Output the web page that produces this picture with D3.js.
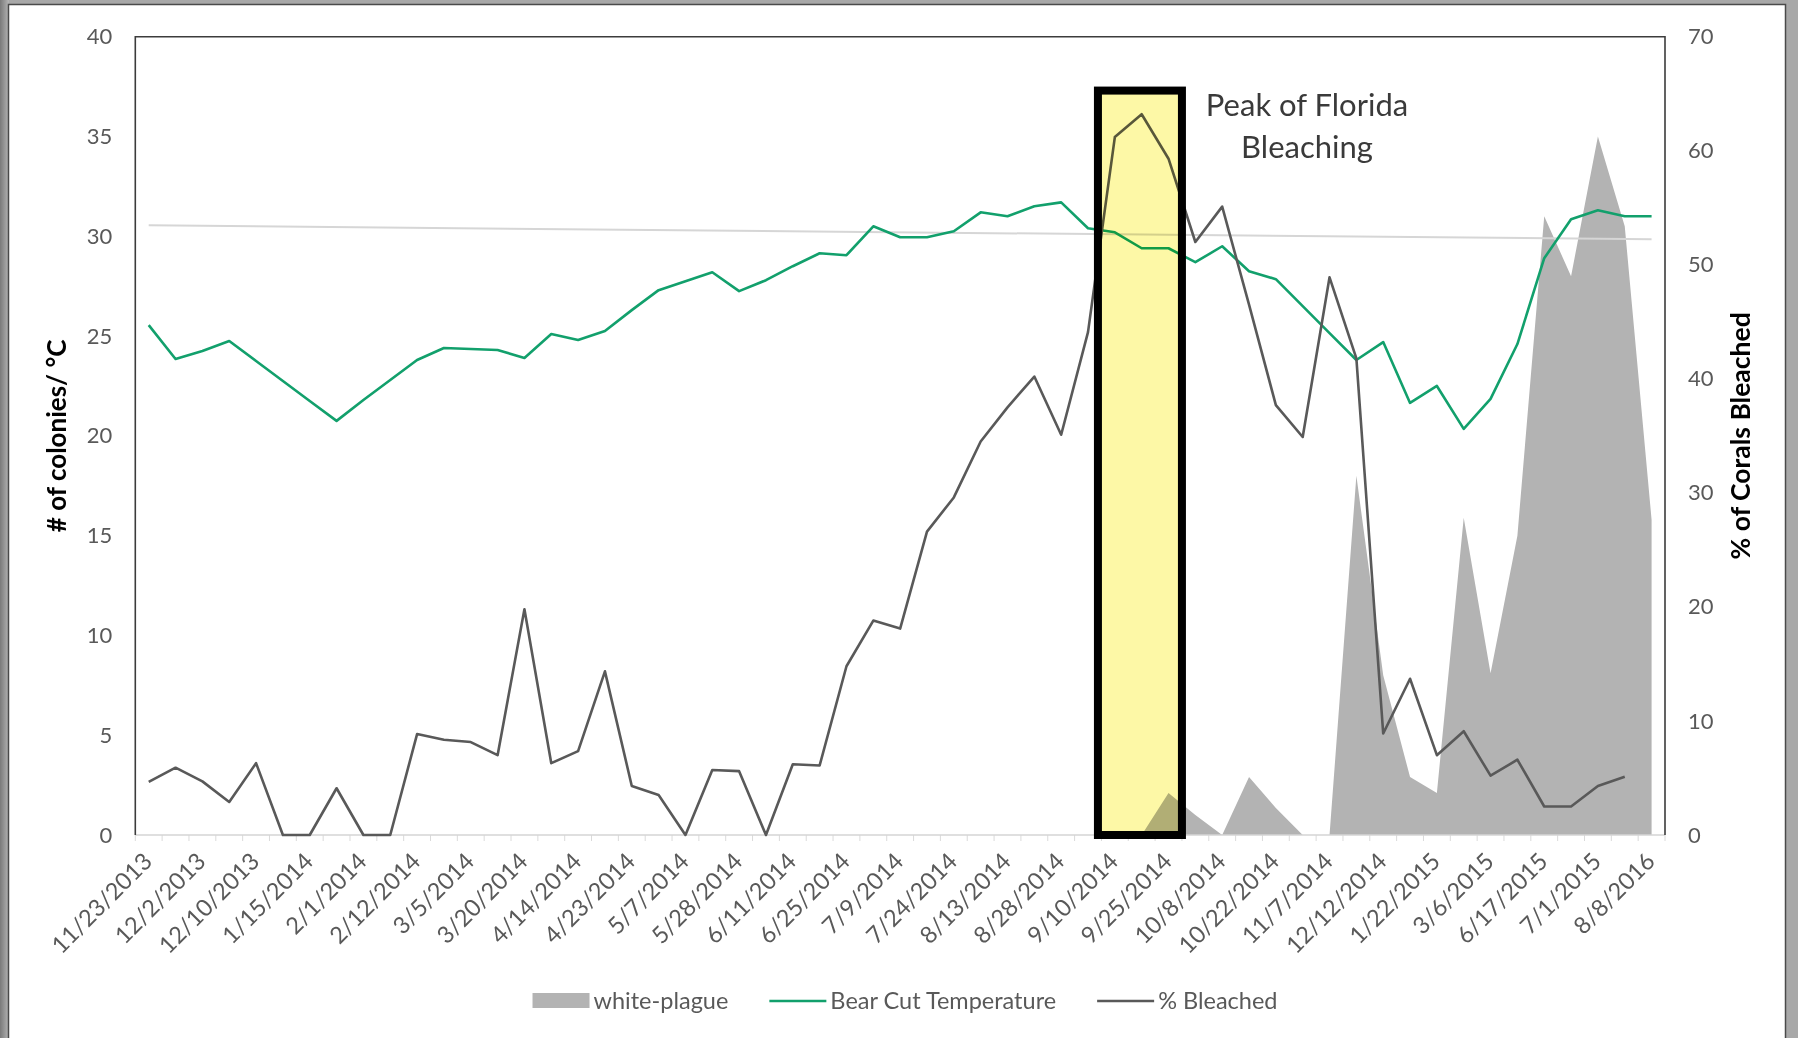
<!DOCTYPE html>
<html>
<head>
<meta charset="utf-8">
<script src="https://cdn.jsdelivr.net/npm/d3@7"></script>
<style>
  html, body { margin: 0; padding: 0; background: #fff; }
  svg { display: block; }
  text { font-family: Lato, "Open Sans", sans-serif; }
</style>
</head>
<body>
<svg id="chart" width="1798" height="1038"></svg>
<script>
// ---- data ----------------------------------------------------------------
// Survey dates shown on the axis (every second sampling date is labelled)
const tickLabels = [
  "11/23/2013", "12/2/2013", "12/10/2013", "1/15/2014", "2/1/2014", "2/12/2014",
  "3/5/2014", "3/20/2014", "4/14/2014", "4/23/2014", "5/7/2014", "5/28/2014",
  "6/11/2014", "6/25/2014", "7/9/2014", "7/24/2014", "8/13/2014", "8/28/2014",
  "9/10/2014", "9/25/2014", "10/8/2014", "10/22/2014", "11/7/2014", "12/12/2014",
  "1/22/2015", "3/6/2015", "6/17/2015", "7/1/2015", "8/8/2016"
];

// Bear Cut water temperature, °C (left axis)
const temperature = [
  25.55, 23.85, 24.25, 24.75, 23.75, 22.75, 21.75, 20.75, 21.8, 22.8,
  23.8, 24.4, 24.35, 24.3, 23.9, 25.1, 24.8, 25.25, 26.3, 27.3,
  27.75, 28.2, 27.25, 27.8, 28.5, 29.15, 29.05, 30.5, 29.95, 29.95,
  30.25, 31.2, 31.0, 31.5, 31.7, 30.4, 30.2, 29.4, 29.4, 28.7,
  29.5, 28.25, 27.85, 26.5, 25.15, 23.8, 24.7, 21.65, 22.5, 20.35,
  21.85, 24.6, 28.9, 30.85, 31.3, 31.0, 31.0
];

// Percentage of corals bleached (right axis); no value on the last date
const bleached = [
  4.65, 5.9, 4.7, 2.9, 6.3, 0, 0, 4.1, 0, 0,
  8.85, 8.35, 8.15, 7.0, 19.8, 6.3, 7.35, 14.35, 4.3, 3.5,
  0, 5.7, 5.6, 0, 6.2, 6.1, 14.8, 18.8, 18.1, 26.6,
  29.6, 34.5, 37.5, 40.2, 35.1, 44.1, 61.2, 63.2, 59.3, 52.0,
  55.1, 46.5, 37.7, 34.9, 48.9, 41.8, 8.9, 13.7, 7.0, 9.1,
  5.2, 6.6, 2.5, 2.5, 4.3, 5.1, null
];

// Number of colonies with white plague (left axis)
const whitePlague = [
  0, 0, 0, 0, 0, 0, 0, 0, 0, 0,
  0, 0, 0, 0, 0, 0, 0, 0, 0, 0,
  0, 0, 0, 0, 0, 0, 0, 0, 0, 0,
  0, 0, 0, 0, 0, 0, 0, 0, 2.1, 1.0,
  0, 2.9, 1.35, 0, 0, 18.0, 8.0, 2.9, 2.1, 15.9,
  8.1, 15.0, 31.0, 28.0, 35.0, 30.5, 15.8
];

// Faint reference line across the temperature series (start, end), °C
const referenceLine = [30.55, 29.85];

// Highlighted bleaching peak, in sample positions, and its height (left axis)
const peakWindow = [35.37, 38.5];
const peakTop = 37.3;

const leftTicks = [0, 5, 10, 15, 20, 25, 30, 35, 40];
const rightTicks = [0, 10, 20, 30, 40, 50, 60, 70];

const categories = temperature.map((_, i) => i);

const seriesNames = ["white-plague", "Bear Cut Temperature", "% Bleached"];

// ---- layout ----------------------------------------------------------------
const W = 1798, H = 1038;
const plot = { left: 135.3, right: 1665, top: 36.7, bottom: 835 };

const colors = {
  area: "#b3b3b3",
  temp: "#12a06c",
  bleach: "#595959",
  ref: "#d6d6d6",
  tick: "#595959",
  frame: "#3c3c3c"
};

const svg = d3.select("#chart");

// surrounding window frame
const defs = svg.append("defs");
const grad = defs.append("linearGradient").attr("id", "edgeGrad")
  .attr("x1", 0).attr("x2", 1).attr("y1", 0).attr("y2", 0);
grad.append("stop").attr("offset", "0%").attr("stop-color", "#7a7a7a");
grad.append("stop").attr("offset", "100%").attr("stop-color", "#b5b5b5");
svg.append("rect").attr("width", W).attr("height", H).attr("fill", "#a8a8a8");
svg.append("rect").attr("x", 0).attr("y", 0).attr("width", 9).attr("height", H).attr("fill", "url(#edgeGrad)");
svg.append("rect")
  .attr("x", 8.5).attr("y", 4.5).attr("width", 1777).attr("height", H + 10)
  .attr("fill", "#fff").attr("stroke", "#4a4a4a").attr("stroke-width", 1.5);

// ---- scales ----------------------------------------------------------------
const x = d3.scaleBand().domain(categories).range([plot.left, plot.right]).padding(0);
const cx = i => x(i) + x.bandwidth() / 2;
const pos = d3.scaleLinear().domain([0, categories.length - 1])
  .range([cx(0), cx(categories.length - 1)]);
const yL = d3.scaleLinear().domain([0, 40]).range([plot.bottom, plot.top]);
const yR = d3.scaleLinear().domain([0, 70]).range([plot.bottom, plot.top]);

// ---- marks -----------------------------------------------------------------
const area = d3.area()
  .x((d, i) => cx(i))
  .y0(yL(0))
  .y1(d => yL(d));
svg.append("path").datum(whitePlague)
  .attr("d", area).attr("fill", colors.area);

// category tick marks and baseline
svg.append("g").selectAll("line")
  .data(d3.range(categories.length + 1))
  .join("line")
  .attr("x1", i => plot.left + i * x.step()).attr("x2", i => plot.left + i * x.step())
  .attr("y1", plot.bottom).attr("y2", plot.bottom + 6)
  .attr("stroke", "#dadada").attr("stroke-width", 1);
svg.append("line")
  .attr("x1", plot.left).attr("x2", plot.right)
  .attr("y1", yL(0)).attr("y2", yL(0))
  .attr("stroke", "#d4d4d4").attr("stroke-width", 1.5);

// reference line
svg.append("line")
  .attr("x1", cx(0)).attr("x2", cx(categories.length - 1))
  .attr("y1", yL(referenceLine[0])).attr("y2", yL(referenceLine[1]))
  .attr("stroke", colors.ref).attr("stroke-width", 2);

const tempLine = d3.line().x((d, i) => cx(i)).y(d => yL(d));
svg.append("path").datum(temperature)
  .attr("d", tempLine).attr("fill", "none")
  .attr("stroke", colors.temp).attr("stroke-width", 2.6).attr("stroke-linejoin", "round");

const bleachLine = d3.line()
  .defined(d => d !== null)
  .x((d, i) => cx(i)).y(d => yR(d));
svg.append("path").datum(bleached)
  .attr("d", bleachLine).attr("fill", "none")
  .attr("stroke", colors.bleach).attr("stroke-width", 2.6).attr("stroke-linejoin", "round");

// highlighted peak window
const bx0 = pos(peakWindow[0]), bx1 = pos(peakWindow[1]);
svg.append("rect")
  .attr("x", bx0).attr("y", yL(peakTop))
  .attr("width", bx1 - bx0).attr("height", yL(0) - yL(peakTop))
  .attr("fill", "#fdf8a6").style("mix-blend-mode", "multiply");
svg.append("rect")
  .attr("x", bx0).attr("y", yL(peakTop))
  .attr("width", bx1 - bx0).attr("height", yL(0) - yL(peakTop))
  .attr("fill", "none").attr("stroke", "#000").attr("stroke-width", 8);

svg.append("text")
  .attr("x", 1307).attr("y", 116)
  .attr("text-anchor", "middle").attr("font-size", 31).attr("fill", "#3a3a3a")
  .selectAll("tspan").data(["Peak of Florida", "Bleaching"]).join("tspan")
  .attr("x", 1307).attr("dy", (d, i) => i === 0 ? 0 : 42).text(d => d);

// plot frame (top, left, right)
svg.append("path")
  .attr("d", `M${plot.left},${plot.bottom}V${plot.top}H${plot.right}V${plot.bottom}`)
  .attr("fill", "none").attr("stroke", colors.frame).attr("stroke-width", 1.6);

// ---- axes ------------------------------------------------------------------
const gLeft = svg.append("g").attr("transform", `translate(${plot.left},0)`)
  .call(d3.axisLeft(yL).tickValues(leftTicks).tickSize(0).tickPadding(23));
gLeft.select(".domain").remove();
gLeft.selectAll("text").attr("font-size", 22).attr("fill", colors.tick)
  .style("font-family", "Lato, sans-serif");

const gRight = svg.append("g").attr("transform", `translate(${plot.right},0)`)
  .call(d3.axisRight(yR).tickValues(rightTicks).tickSize(0).tickPadding(23));
gRight.select(".domain").remove();
gRight.selectAll("text").attr("font-size", 22).attr("fill", colors.tick)
  .style("font-family", "Lato, sans-serif");

const gBottom = svg.append("g").attr("transform", `translate(0,${plot.bottom})`)
  .call(d3.axisBottom(x)
    .tickValues(categories.filter(i => i % 2 === 0))
    .tickFormat(i => tickLabels[i / 2])
    .tickSize(0));
gBottom.select(".domain").remove();
gBottom.selectAll("text")
  .attr("x", 0).attr("y", 0).attr("dy", "0.35em")
  .attr("text-anchor", "end")
  .attr("transform", "translate(-1,22) rotate(-45)")
  .attr("font-size", 23.5).attr("fill", colors.tick)
  .style("font-family", "Lato, sans-serif");

// axis titles
svg.append("text")
  .attr("transform", `translate(66,${(plot.top + plot.bottom) / 2}) rotate(-90)`)
  .attr("text-anchor", "middle").attr("font-size", 26).attr("font-weight", 700)
  .attr("fill", "#000")
  .text("# of colonies/ °C");
svg.append("text")
  .attr("transform", `translate(1741,${(plot.top + plot.bottom) / 2}) rotate(-90)`)
  .attr("text-anchor", "middle").attr("dy", "0.35em")
  .attr("font-size", 26.5).attr("font-weight", 700).attr("fill", "#000")
  .text("% of Corals Bleached");

// ---- legend ----------------------------------------------------------------
const legend = svg.append("g");
const swatchW = 57, gapText = 4, gapItem = 41, legendY = 1001;
const items = legend.selectAll("g").data(seriesNames).join("g");
items.append("text")
  .attr("x", swatchW + gapText).attr("y", 0).attr("dy", "0.35em")
  .attr("font-size", 23.5).attr("fill", colors.tick)
  .text(d => d);
items.each(function (d, i) {
  const g = d3.select(this);
  if (i === 0) {
    g.insert("rect", "text").attr("x", 0).attr("y", -8).attr("width", swatchW).attr("height", 15)
      .attr("fill", colors.area);
  } else {
    g.insert("line", "text").attr("x1", 0).attr("x2", swatchW).attr("y1", 0).attr("y2", 0)
      .attr("stroke", i === 1 ? colors.temp : colors.bleach).attr("stroke-width", 2.6);
  }
});
const widths = [];
items.each(function () { widths.push(this.getBBox().width); });
const total = d3.sum(widths) + gapItem * (widths.length - 1);
let cursor = 905 - total / 2;
items.attr("transform", (d, i) => {
  const t = `translate(${cursor},${legendY})`;
  cursor += widths[i] + gapItem;
  return t;
});
</script>
</body>
</html>
